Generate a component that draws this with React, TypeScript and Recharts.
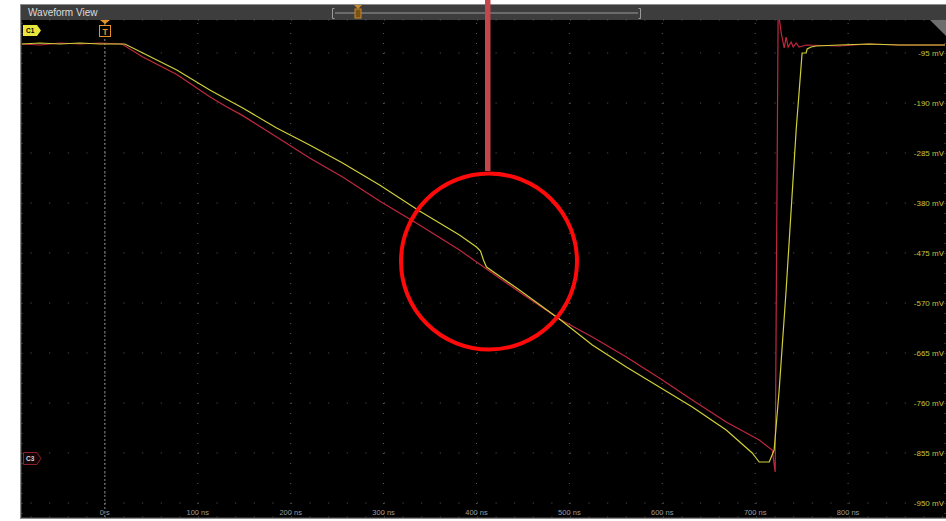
import { LineChart, Line, XAxis, YAxis, CartesianGrid, ReferenceLine } from 'recharts';

// time axis (ns) and volt axis (mV)
const timeTicks = [0, 100, 200, 300, 400, 500, 600, 700, 800];
const timeTickLabels = ['0 s', '100 ns', '200 ns', '300 ns', '400 ns', '500 ns', '600 ns', '700 ns', '800 ns'];
const voltTicks = [-95, -190, -285, -380, -475, -570, -665, -760, -855, -950];
const voltTickLabels = ['-95 mV', '-190 mV', '-285 mV', '-380 mV', '-475 mV', '-570 mV', '-665 mV', '-760 mV', '-855 mV', '-950 mV'];

// C1 (yellow) trace
const c1Time = [
  -89.2, -69.9, -48.4, -26.9, -5.4, 21.5, 40.9, 77.4, 112.9, 148.4, 184.9, 220.4, 255.9, 295.7,
  338.7, 381.7, 400, 404.3, 407.5, 410.8, 446.2, 489.2, 524.7, 561.3, 596.8, 632.3, 668.8, 696.8,
  704.3, 715.1, 720.4, 725.8, 733.3, 744.1, 750.5, 754.8, 755.9, 760.2, 765.6, 790.3, 822.6, 854.8, 904.3,
];
const c1Volt = [
  -77.9, -76, -77.9, -76, -77.9, -77.9, -95, -127.3, -165.3, -199.5, -237.5, -269.8, -304, -345.8,
  -395.2, -440.8, -463.6, -471.2, -488.3, -501.6, -545.3, -600.4, -649.8, -691.6, -729.6, -767.6, -811.3, -855,
  -872.1, -872.1, -849.3, -735.3, -545.3, -241.3, -95, -95, -87.4, -83.6, -81.7, -79.8, -77.9, -79.8, -79.8,
];

// C3 (red) trace
const c3Time = [
  -89.2, -69.9, -48.4, -26.9, -5.4, 18.3, 40.9, 77.4, 112.9, 130, 148.4, 184.9, 220.4, 255.9,
  295.7, 338.7, 381.7, 410.8, 446.2, 489.2, 524.7, 561.3, 596.8, 632.3, 668.8, 704.3, 718.3, 721.5,
  724.7, 728, 731.2, 733.3, 735.5, 738.7, 740.9, 744.1, 747.3, 754.8, 790.3, 822.6, 854.8, 904.3,
];
const c3Volt = [
  -77.9, -79.8, -76, -77.9, -76, -77.9, -102.6, -136, -178, -196, -214, -254.6, -294.5, -330.6,
  -376.2, -421.8, -469.3, -505.4, -549.1, -600.4, -634.6, -672.6, -712.5, -754.3, -796.1, -830.3, -849.3, -891.1,
  -13.3, -57, -85.5, -64.6, -83.6, -74.1, -83.6, -76, -83.6, -79.8, -81.7, -77.9, -79.8, -79.8,
];

const c1Data = c1Time.map((t, i) => ({ t, v: c1Volt[i] }));
const c3Data = c3Time.map((t, i) => ({ t, v: c3Volt[i] }));

const FONT = '"Liberation Sans", Arial, sans-serif';

function TimeTick(props: any) {
  const { x, index } = props;
  return (
    <text x={x} y={515} textAnchor="middle" fontSize={7.5} fill="#9a9a9a" fontFamily={FONT}>
      {timeTickLabels[index]}
    </text>
  );
}

function VoltTick(props: any) {
  const { y, index } = props;
  return (
    <text x={944} y={y} dy={3} textAnchor="end" fontSize={8} fill="#c4c23a" fontFamily={FONT}>
      {voltTickLabels[index]}
    </text>
  );
}

const hLine = (p: any) => (
  <line
    key={`h${p.index}`}
    x1={p.x1}
    x2={p.x2}
    y1={p.y1}
    y2={p.y2}
    stroke="#5a5a5a"
    strokeDasharray="1 17.6"
    strokeDashoffset={10}
  />
);

const vLine = (p: any) => (
  <line
    key={`v${p.index}`}
    x1={p.x1}
    x2={p.x2}
    y1={p.y1}
    y2={p.y2}
    stroke="#5a5a5a"
    strokeDasharray="1 9"
    strokeDashoffset={7}
  />
);

export default function App() {
  return (
    <div style={{ position: 'absolute', left: 0, top: 0, width: 946, height: 521, background: '#fff', overflow: 'hidden' }}>
      <svg width={946} height={521} style={{ position: 'absolute', left: 0, top: 0 }}>
        <rect x={20.5} y={4.5} width={930} height={514} fill="#2e2e2e" stroke="#8c8c8c" />
        <rect x={21} y={5} width={925} height={15} fill="#3d3d3d" />
        <rect x={22} y={20} width={924} height={497} fill="#000" />
        <text x={28} y={16} fontSize={10} fill="#dcdcdc" fontFamily={FONT}>
          Waveform View
        </text>
        <line x1={335} x2={638} y1={13} y2={13} stroke="#9a9a9a" />
        <path d="M334.5,8.5 H332.5 V18.5 H334.5" stroke="#9a9a9a" fill="none" />
        <path d="M638.5,8.5 H640.5 V18.5 H638.5" stroke="#9a9a9a" fill="none" />
        <polygon points="354,5 362,5 358,9" fill="#c9882a" />
        <rect x={355} y={9} width={6} height={9} fill="#7a5216" stroke="#c9882a" />
      </svg>
      <div style={{ position: 'absolute', left: 0, top: 0 }}>
        <LineChart width={946} height={521} margin={{ top: 20, right: 0, bottom: 2, left: 22 }}>
          <CartesianGrid horizontal={hLine} vertical={vLine} />
          <XAxis
            type="number"
            dataKey="t"
            domain={[-89.2, 904.3]}
            allowDataOverflow
            ticks={timeTicks}
            tick={TimeTick}
            axisLine={false}
            tickLine={false}
            height={2}
            interval={0}
          />
          <YAxis
            type="number"
            dataKey="v"
            orientation="right"
            domain={[-976.6, -32.3]}
            allowDataOverflow
            ticks={voltTicks}
            tick={VoltTick}
            axisLine={false}
            tickLine={false}
            width={1}
            interval={0}
          />
          <ReferenceLine x={0} stroke="#8a8a8a" strokeDasharray="2 2" />
          <Line data={c3Data} dataKey="v" type="linear" stroke="#c0283f" strokeWidth={1.2} dot={false} isAnimationActive={false} />
          <Line data={c1Data} dataKey="v" type="linear" stroke="#d0cf38" strokeWidth={1.2} dot={false} isAnimationActive={false} />
        </LineChart>
      </div>
      <svg width={946} height={521} style={{ position: 'absolute', left: 0, top: 0, pointerEvents: 'none' }}>
        <path d="M23,25 H37 L41,30.5 L37,36 H23 Z" fill="#e8e63c" />
        <text x={26} y={33} fontSize={6.5} fill="#000" fontFamily={FONT} fontWeight="bold">
          C1
        </text>
        <path d="M23.5,452.5 H37 L41,458.5 L37,464.5 H23.5 Z" fill="#150406" stroke="#8a2232" />
        <text x={26} y={461} fontSize={6.5} fill="#d8d8d8" fontFamily={FONT} fontWeight="bold">
          C3
        </text>
        <polygon points="100,20 110,20 105,24" fill="#e8902a" />
        <rect x={99.5} y={25.5} width={11} height={11} fill="#000" stroke="#e8902a" />
        <text x={105} y={34.5} fontSize={8.5} fill="#e8902a" textAnchor="middle" fontFamily={FONT} fontWeight="bold">
          T
        </text>
        <polygon points="930,20 946,20 946,36" fill="#6e6e6e" />
        <rect x={485} y={0} width={5.5} height={171} fill="#c1474b" />
        <circle cx={489} cy={261.5} r={88} fill="none" stroke="#ff0a0a" strokeWidth={4} />
      </svg>
    </div>
  );
}
